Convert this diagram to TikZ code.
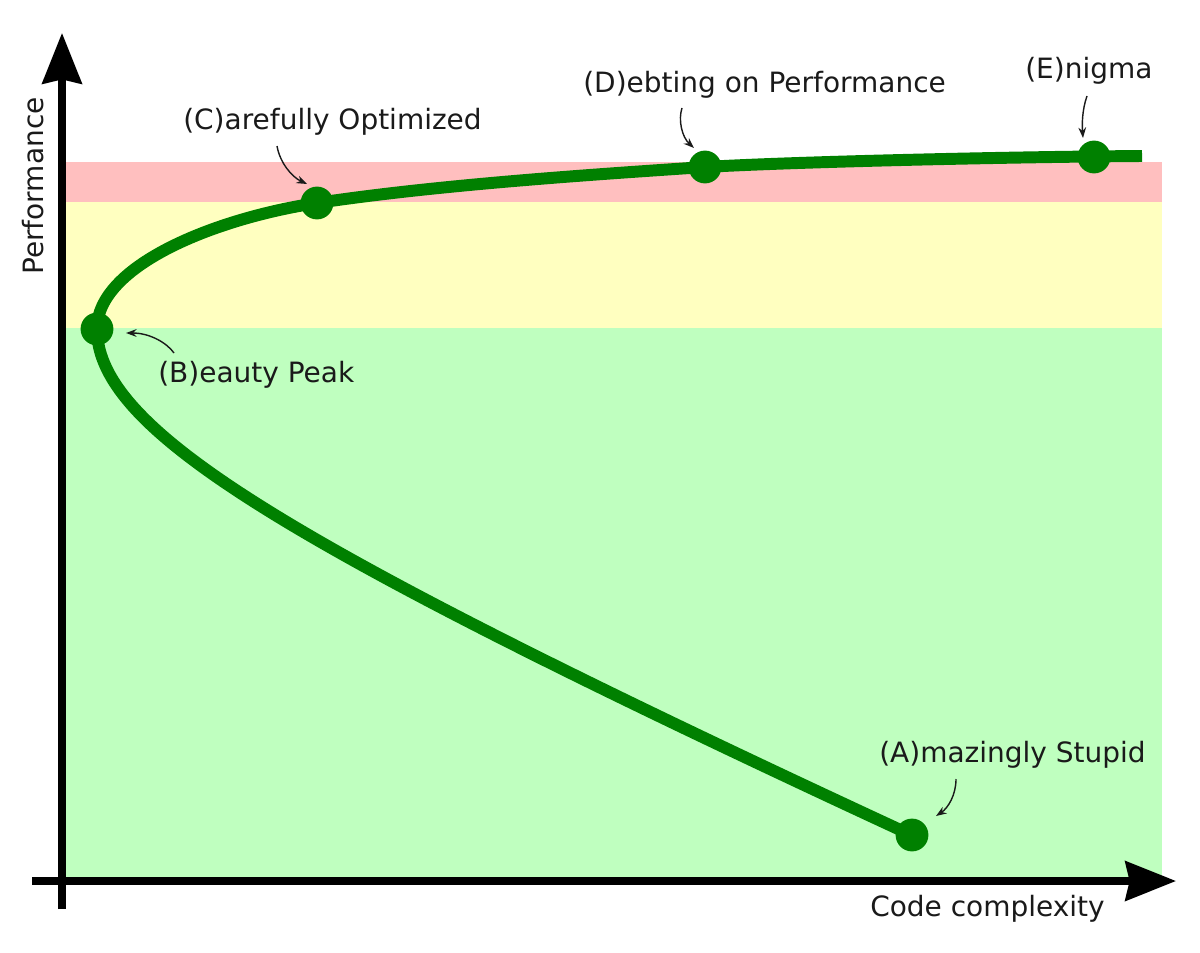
\documentclass[tikz,border=0pt]{standalone}
\usepackage{fontspec}
\setmainfont{DejaVu Sans}
\usetikzlibrary{arrows.meta}
\definecolor{bandred}{HTML}{FFBFBF}
\definecolor{bandyellow}{HTML}{FFFFC0}
\definecolor{bandgreen}{HTML}{BFFFBF}
\definecolor{curvegreen}{HTML}{008000}
\definecolor{inkc}{HTML}{1A1A1A}
\begin{document}
\begin{tikzpicture}[x=0.025cm,y=-0.025cm,
  lbl/.style={font=\fontsize{19.9}{24}\selectfont, text=inkc, inner sep=0pt, anchor=base west},
  dot/.style={circle, fill=curvegreen, minimum size=0.82cm, inner sep=0pt},
  note/.style={-{Stealth[length=7.5pt,width=5.5pt]}, line width=1pt, draw=inkc},
  axis/.style={line width=5pt, -{Stealth[length=36pt,width=28pt,inset=3pt]}},
  curve/.style={line width=8.5pt, draw=curvegreen}]
\useasboundingbox (0,0) rectangle (1200,952);
% bands
\fill[bandgreen] (62,328) rectangle (1162,881);
\fill[bandyellow] (62,202) rectangle (1162,328);
\fill[bandred] (62,162) rectangle (1162,202);
% axes
\coordinate (xs) at (32,881);
\coordinate (xe) at (1176,881);
\coordinate (ys) at (62,909);
\coordinate (ye) at (62,33);
\draw[axis] (xs) -- (xe);
\draw[axis] (ys) -- (ye);
% positions of the points
\coordinate (pA) at (912,835);
\coordinate (pB) at (97,329);
\coordinate (pC) at (317,203);
\coordinate (pD) at (705,167);
\coordinate (pE) at (1094,157);
\coordinate (pF) at (1142,156);
% curve
\draw[curve] (pF) .. controls (1000,157) and (790,162) .. (pD)
  .. controls (585,175) and (437,185) .. (pC)
  .. controls (217,218) and (97,265) .. (pB)
  -- plot[domain=0:5.06, samples=80, smooth]
     ({97+230*(sqrt(\x*\x+1.846*1.846)-1.846)}, {329+100*\x});
% dots
\node[dot] (A) at (pA) {};
\node[dot] (B) at (pB) {};
\node[dot] (C) at (pC) {};
\node[dot] (D) at (pD) {};
\node[dot] (E) at (pE) {};
% labels
\node[lbl] (tA) at (879,762) {(A)mazingly Stupid};
\node[lbl] (tB) at (158,382) {(B)eauty Peak};
\node[lbl] (tC) at (183,130) {(C)arefully Optimized};
\node[lbl] (tD) at (583,93) {(D)ebting on Performance};
\node[lbl] (tE) at (1025,79) {(E)nigma};
\node[lbl] (tx) at (870,916) {Code complexity};
\node[lbl, rotate=90] (ty) at (43,275) {Performance};
% annotation arrows
\coordinate (aS) at (956,779); \coordinate (aE) at (936,816);
\coordinate (bS) at (174,353); \coordinate (bE) at (126,333);
\coordinate (cS) at (277,146); \coordinate (cE) at (307,184);
\coordinate (dS) at (682,108); \coordinate (dE) at (694,148);
\coordinate (eS) at (1087,96); \coordinate (eE) at (1083,138);
\draw[note] (aS) .. controls (956,795) and (948,808) .. (aE);
\draw[note] (bS) .. controls (167,343) and (150,333) .. (bE);
\draw[note] (cS) .. controls (280,163) and (292,177) .. (cE);
\draw[note] (dS) .. controls (678,120) and (682,137) .. (dE);
\draw[note] (eS) .. controls (1082,110) and (1082,125) .. (eE);
\end{tikzpicture}
\end{document}
